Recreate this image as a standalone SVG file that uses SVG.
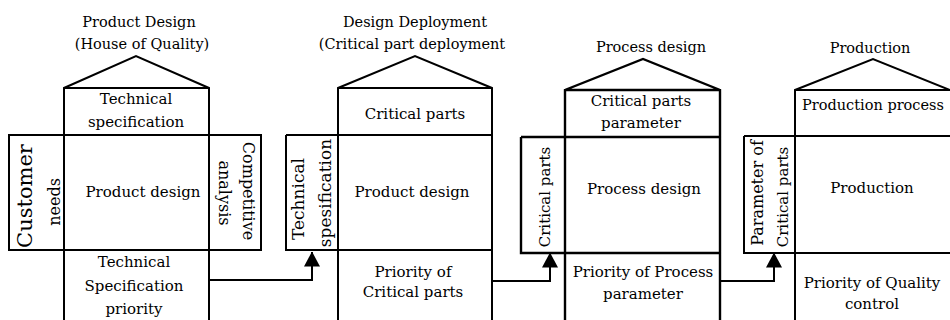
<svg xmlns="http://www.w3.org/2000/svg" width="950" height="320" viewBox="0 0 950 320">
<style>
.b{fill:none;stroke:#000;stroke-width:2;stroke-linejoin:miter}
.b3{fill:none;stroke:#000;stroke-width:2.4}
text{font-family:"DejaVu Serif","Liberation Serif",serif;font-size:15px;fill:#000;text-anchor:middle}
.t{font-size:14.5px}
.s15{font-size:15px}
.s16{font-size:16px}
.s17{font-size:17px}
.big{font-size:21px}
.c{fill:none;stroke:#000;stroke-width:2}
</style>
<defs>
<marker id="ah" viewBox="0 0 15 16" refX="14.5" refY="8" markerWidth="15" markerHeight="16" markerUnits="userSpaceOnUse" orient="auto">
<path d="M0,0 L15,8 L0,16 Z" fill="#000"/>
</marker>
</defs>
<rect width="950" height="320" fill="#fff"/>

<g id="house1">
<path class="b" d="M64,320 V88 L136,56 L209,88 V320 M64,88 H209 M9,135 H261 V250 H9 Z M64,250 H209"/>
<text class="t" x="139" y="27">Product Design</text>
<text class="t" x="142" y="49">(House of Quality)</text>
<text x="136" y="104">Technical</text>
<text x="136" y="127">specification</text>
<text x="143" y="197">Product design</text>
<text class="big" transform="translate(32,196) rotate(-90)">Customer</text>
<text class="s16" transform="translate(60,202) rotate(-90)">needs</text>
<text class="s16" transform="translate(243,191) rotate(90)">Competitive</text>
<text class="s16" transform="translate(219,193) rotate(90)">analysis</text>
<text x="134" y="267">Technical</text>
<text x="134" y="291">Specification</text>
<text x="134" y="314">priority</text>
</g>

<g id="house2">
<path class="b" d="M338,320 V88 L415,56 L492,88 V320 M338,88 H492 M286,135 H492 M286,135 V250 H492"/>
<text class="t" x="415" y="27">Design Deployment</text>
<text class="t" x="412" y="49">(Critical part deployment</text>
<text x="415" y="119">Critical parts</text>
<text x="412" y="197">Product design</text>
<text class="s17" transform="translate(304,199) rotate(-90)">Technical</text>
<text class="s17" transform="translate(331,193) rotate(-90)">spesification</text>
<text x="413" y="277">Priority of</text>
<text x="413" y="297">Critical parts</text>
</g>

<g id="house3">
<path class="b3" d="M565,320 V90 L643,59 L720,90 V320 M565,90 H720 M521,137 H720 M521,137 V253 H720"/>
<text class="t" x="651" y="52">Process design</text>
<text x="641" y="106">Critical parts</text>
<text x="641" y="128">parameter</text>
<text x="644" y="194">Process design</text>
<text class="s15" transform="translate(550,197) rotate(-90)">Critical parts</text>
<text x="643" y="277">Priority of Process</text>
<text x="643" y="299">parameter</text>
</g>

<g id="house4">
<path class="b" d="M795,320 V90 L873,59 L950,90 M795,90 H950 M744,136 H950 M744,136 V253 H950"/>
<text class="t" x="870" y="53">Production</text>
<text class="t" x="873" y="110">Production process</text>
<text x="872" y="193">Production</text>
<text class="s16" transform="translate(763,193) rotate(-90)">Parameter of</text>
<text class="s15" transform="translate(788,197) rotate(-90)">Critical parts</text>
<text x="872" y="288">Priority of Quality</text>
<text x="872" y="309">control</text>
</g>

<g id="connectors">
<path class="c" d="M209,280 H312 V252" marker-end="url(#ah)"/>
<path class="c" d="M492,281 H550 V253" marker-end="url(#ah)"/>
<path class="c" d="M720,281 H774 V253" marker-end="url(#ah)"/>
</g>
</svg>
